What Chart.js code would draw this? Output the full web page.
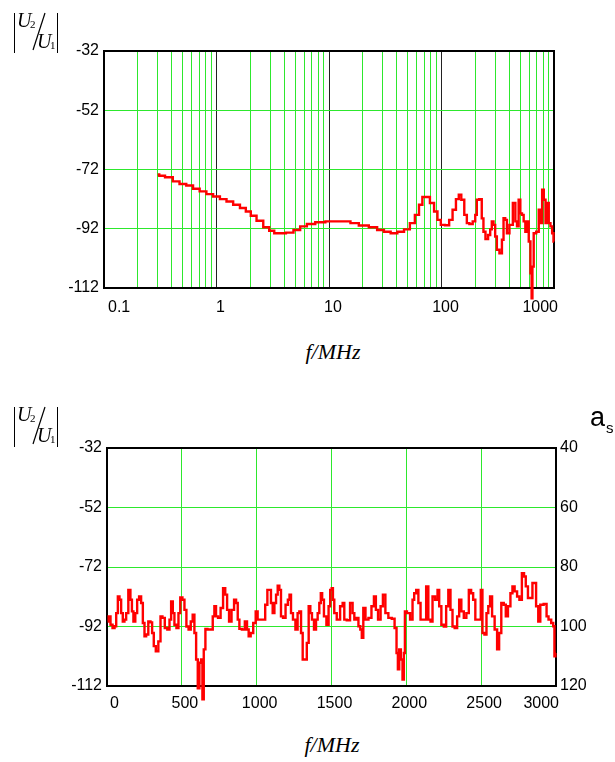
<!DOCTYPE html>
<html>
<head>
<meta charset="utf-8">
<script src="https://cdn.jsdelivr.net/npm/chart.js@4.4.0/dist/chart.umd.min.js"></script>
<style>
body { margin: 0; background: #fff; width: 615px; height: 762px; position: relative; overflow: hidden; }
canvas { position: absolute; left: 0; }
.t { position: absolute; white-space: nowrap; color: #000; }
.serif { font-family: "Liberation Serif", "Times New Roman", serif; }
.sans { font-family: "Liberation Sans", Arial, sans-serif; }
.bar { position: absolute; width: 0; height: 40px; border-left: 1.4px solid #000; }
svg.slash { position: absolute; left: 0; width: 60px; height: 60px; overflow: visible; }
</style>
</head>
<body>
<canvas id="topChart" style="top:0;width:615px;height:330px" width="615" height="330"></canvas>
<canvas id="bottomChart" style="top:380px;width:615px;height:340px" width="615" height="340"></canvas>

<div class="t serif" style="left:233px;top:341px;width:200px;text-align:center;font-size:22px;line-height:22px;font-style:italic">f/MHz</div>
<div class="t serif" style="left:232px;top:734px;width:200px;text-align:center;font-size:22px;line-height:22px;font-style:italic">f/MHz</div>
<div class="t sans" style="left:590px;top:404px;font-size:27px;line-height:27px">a</div>
<div class="t sans" style="left:606px;top:420px;font-size:15px;line-height:15px">s</div>

<script>
// Top chart: |U2/U1| in dB against frequency (log axis)
const topFreq = [0.30, 0.32, 0.38, 0.44, 0.50, 0.58, 0.66, 0.76, 0.87, 1.0, 1.15, 1.31, 1.51, 1.73, 1.92,
  2.12, 2.43, 2.79, 3.10, 3.43, 3.80, 4.51, 5.18, 5.93, 6.81, 8.36, 10.3, 14.5, 16.6, 20.4,
  25.0, 28.7, 33.0, 37.8, 43.4, 49.7, 55.1, 61.0, 65.3, 70.0, 75.0, 83.0, 88.9, 95.3, 102,
  113, 121, 130, 139, 146, 154, 165, 171, 183, 196, 203, 209, 224, 232, 240,
  252, 267, 275, 285, 295, 305, 316, 339, 350, 362, 375, 388, 416, 446, 461,
  477, 493, 511, 528, 547, 566, 586, 607, 628, 637, 649, 671, 719, 745, 771,
  798, 826, 855, 883, 914, 946, 980, 1000];
const topLevel = [-73.7, -74.1, -74.6, -76.0, -76.9, -77.4, -78.5, -79.4, -80.3, -81.1, -82.0, -82.8, -83.9, -85.0, -86.2,
  -87.6, -89.3, -91.5, -92.7, -93.5, -93.5, -93.3, -92.4, -91.2, -90.4, -89.8, -89.5, -89.5, -90.1, -90.9,
  -91.5, -92.4, -93.0, -93.5, -93.0, -92.2, -90.1, -87.3, -83.9, -81.3, -81.3, -83.3, -86.2, -89.0, -90.7,
  -90.8, -89.0, -85.6, -82.0, -80.5, -82.2, -87.3, -90.1, -90.4, -89.5, -87.3, -82.2, -82.0, -88.5, -93.0,
  -95.5, -94.1, -92.2, -89.5, -90.7, -94.6, -99.1, -100.3, -95.7, -88.4, -89.0, -93.5, -90.7, -83.3, -89.5,
  -91.2, -82.2, -86.8, -87.3, -89.5, -93.0, -89.5, -96.3, -107.0, -115.5, -104.8, -93.5, -93.0, -85.6, -90.1,
  -78.8, -82.2, -90.1, -83.3, -90.1, -91.2, -93.5, -96.3];
const topXTicks = [0.1, 0.2, 0.3, 0.4, 0.5, 0.6, 0.7, 0.8, 0.9,
  1, 2, 3, 4, 5, 6, 7, 8, 9,
  10, 20, 30, 40, 50, 60, 70, 80, 90,
  100, 200, 300, 400, 500, 600, 700, 800, 900, 1000];
const decades = [1, 10, 100];
const topXLabels = { 0.1: "0.1", 1: "1", 10: "10", 100: "100", 1000: "1000" };

// Bottom chart: same quantity on a linear axis
const botFreq = [4, 18, 29, 45, 56, 67, 78, 89, 100, 111, 122, 134, 151, 162, 171,
  182, 196, 207, 222, 234, 245, 256, 267, 285, 296, 307, 318, 334, 352, 363,
  378, 394, 412, 423, 434, 445, 456, 472, 483, 496, 512, 523, 538, 552, 567,
  578, 590, 601, 612, 623, 634, 641, 652, 663, 679, 701, 712, 723, 734, 750,
  768, 783, 797, 808, 823, 841, 857, 868, 879, 890, 912, 930, 941, 952, 968,
  986, 1001, 1012, 1046, 1068, 1075, 1090, 1101, 1113, 1124, 1135, 1146, 1157, 1168, 1184,
  1202, 1215, 1224, 1235, 1250, 1268, 1279, 1291, 1302, 1313, 1328, 1342, 1353, 1364, 1375,
  1391, 1402, 1413, 1424, 1433, 1442, 1457, 1475, 1486, 1497, 1506, 1513, 1524, 1546, 1569,
  1580, 1591, 1613, 1635, 1647, 1658, 1673, 1687, 1698, 1707, 1718, 1736, 1758, 1776, 1791,
  1802, 1820, 1836, 1851, 1869, 1891, 1914, 1929, 1940, 1947, 1958, 1969, 1980, 1987, 1994,
  2014, 2036, 2047, 2058, 2074, 2087, 2103, 2125, 2140, 2154, 2169, 2181, 2203, 2214, 2225,
  2243, 2258, 2274, 2287, 2303, 2314, 2332, 2347, 2359, 2376, 2392, 2410, 2425, 2441, 2452,
  2470, 2492, 2503, 2514, 2530, 2541, 2554, 2565, 2581, 2599, 2614, 2626, 2643, 2659, 2670,
  2688, 2703, 2715, 2732, 2748, 2763, 2781, 2792, 2804, 2821, 2837, 2848, 2859, 2875, 2888,
  2902, 2933, 2941, 2959, 2977, 2986, 2993, 2999];
const botLevel = [-90.3, -88.6, -91.4, -92.5, -91.9, -87.5, -81.9, -83.0, -87.5, -90.3, -89.7, -87.5, -79.7, -83.0, -86.9,
  -90.3, -87.5, -83.0, -81.9, -84.1, -90.8, -95.3, -94.7, -90.3, -90.6, -94.2, -98.6, -100.3, -97.0, -88.6,
  -89.1, -92.5, -93.0, -89.7, -83.6, -87.5, -91.4, -92.5, -87.5, -82.2, -83.0, -86.4, -92.0, -93.0, -90.3,
  -88.0, -94.2, -103.1, -112.8, -104.2, -103.1, -116.5, -99.7, -92.8, -93.0, -93.0, -88.6, -85.2, -88.6, -89.1,
  -85.8, -79.1, -81.3, -86.4, -90.3, -86.4, -83.0, -84.1, -89.7, -92.8, -93.0, -90.3, -93.0, -95.3, -94.2,
  -90.8, -86.9, -89.7, -89.7, -84.7, -79.7, -79.7, -84.1, -87.5, -84.1, -81.3, -78.3, -79.7, -88.6, -89.1,
  -84.7, -83.0, -81.3, -87.5, -89.7, -93.0, -87.5, -86.9, -94.2, -103.1, -103.1, -97.5, -85.2, -87.5, -89.7,
  -93.0, -89.7, -87.5, -84.1, -80.8, -83.0, -88.6, -91.4, -85.2, -79.7, -79.1, -83.0, -87.5, -89.7, -85.2,
  -84.1, -89.7, -89.9, -84.1, -87.5, -89.7, -89.1, -91.9, -93.0, -95.8, -85.8, -89.7, -89.1, -85.2, -81.9,
  -86.4, -89.7, -85.2, -81.3, -87.5, -89.1, -89.4, -92.5, -100.9, -106.4, -99.7, -103.1, -109.8, -100.9, -86.9,
  -87.5, -89.7, -83.0, -80.8, -79.7, -84.1, -89.7, -89.7, -78.5, -89.7, -90.3, -81.9, -83.0, -79.7, -85.2,
  -91.4, -92.0, -85.2, -79.7, -86.4, -92.0, -92.5, -88.6, -83.0, -86.9, -89.1, -87.5, -79.7, -80.8, -83.0,
  -89.7, -89.7, -79.7, -94.2, -94.7, -87.5, -85.2, -81.9, -88.6, -93.0, -99.7, -94.2, -84.1, -84.7, -88.6,
  -85.2, -80.8, -78.5, -80.2, -81.9, -83.0, -74.1, -75.2, -78.5, -82.4, -82.4, -77.4, -77.4, -85.2, -90.3,
  -84.7, -84.4, -88.6, -89.7, -90.8, -91.9, -102.0, -100.9];

const GREEN = "rgb(45,232,45)";
const tickFont = { family: '"Liberation Sans", Arial, sans-serif', size: 16 };

// black frame round the plot, under the trace
const framePlugin = {
  id: "frame",
  beforeDatasetsDraw(chart) {
    const a = chart.chartArea, c = chart.ctx;
    c.save();
    c.strokeStyle = "#000";
    c.lineWidth = 2;
    c.strokeRect(a.left, a.top, a.right - a.left, a.bottom - a.top);
    c.restore();
  }
};

const toPoints = (xs, ys) => xs.map((x, i) => ({ x: x, y: ys[i] }));

function levelAxis(width) {
  return {
    position: "left",
    min: -112, max: -32,
    afterFit: s => { s.width = width; },
    border: { display: false },
    grid: { color: GREEN, lineWidth: 1, drawTicks: false },
    ticks: { stepSize: 20, padding: 5, color: "#000", font: tickFont }
  };
}

function trace(xs, ys) {
  return {
    data: toPoints(xs, ys),
    borderColor: "#ff0000",
    borderWidth: 2.4,
    pointRadius: 0,
    stepped: "middle",
    clip: false
  };
}

new Chart(document.getElementById("topChart"), {
  type: "line",
  data: { datasets: [trace(topFreq, topLevel)] },
  options: {
    responsive: false,
    animation: false,
    layout: { padding: { top: 51, right: 61, left: 0, bottom: 0 } },
    plugins: { legend: { display: false }, tooltip: { enabled: false } },
    scales: {
      x: {
        type: "logarithmic",
        min: 0.1, max: 1000,
        afterBuildTicks: s => { s.ticks = topXTicks.map(v => ({ value: v })); },
        afterFit: s => { s.height = 42; },
        border: { display: false },
        grid: {
          drawTicks: false,
          color: c => decades.includes(c.tick.value) ? "#222" : GREEN
        },
        ticks: {
          autoSkip: false, maxRotation: 0, align: "inner", labelOffset: 4, padding: 10,
          color: "#000", font: tickFont,
          callback: v => topXLabels[v] || ""
        }
      },
      y: levelAxis(104)
    }
  },
  plugins: [framePlugin]
});

new Chart(document.getElementById("bottomChart"), {
  type: "line",
  data: { datasets: [trace(botFreq, botLevel)] },
  options: {
    responsive: false,
    animation: false,
    layout: { padding: { top: 68, right: 0, left: 0, bottom: 0 } },
    plugins: { legend: { display: false }, tooltip: { enabled: false } },
    scales: {
      x: {
        type: "linear",
        min: 0, max: 3000,
        afterFit: s => { s.height = 34; },
        border: { display: false },
        grid: { color: GREEN, drawTicks: false },
        ticks: {
          stepSize: 500, maxRotation: 0, align: "inner", labelOffset: 3, padding: 8,
          color: "#000", font: tickFont,
          callback: v => String(v)
        }
      },
      y: levelAxis(107),
      y2: {
        position: "right",
        min: 40, max: 120,
        reverse: true,
        afterFit: s => { s.width = 59; },
        border: { display: false },
        grid: { display: false, drawTicks: false },
        ticks: { stepSize: 20, padding: 4, color: "#000", font: tickFont }
      }
    }
  },
  plugins: [framePlugin]
});

// |U2/U1| axis captions, built as real text
function ratioLabel(y0) {
  const parts = [
    '<div class="bar" style="left:13.5px;top:' + (y0 + 12.7) + 'px"></div>',
    '<div class="bar" style="left:57px;top:' + (y0 + 12.7) + 'px"></div>',
    '<div class="t serif" style="left:17px;top:' + (y0 + 10.3) + 'px;font-size:20px;line-height:20px;font-style:italic">U</div>',
    '<div class="t serif" style="left:30px;top:' + (y0 + 18.8) + 'px;font-size:11px;line-height:11px">2</div>',
    '<svg class="slash" style="top:' + y0 + 'px"><line x1="33" y1="50" x2="45" y2="13" stroke="#000" stroke-width="1.2"/></svg>',
    '<div class="t serif" style="left:37px;top:' + (y0 + 31.3) + 'px;font-size:20px;line-height:20px;font-style:italic">U</div>',
    '<div class="t serif" style="left:50px;top:' + (y0 + 39.8) + 'px;font-size:11px;line-height:11px">1</div>'
  ];
  document.body.insertAdjacentHTML("beforeend", parts.join(""));
}
ratioLabel(0);
ratioLabel(394);
</script>
</body>
</html>
